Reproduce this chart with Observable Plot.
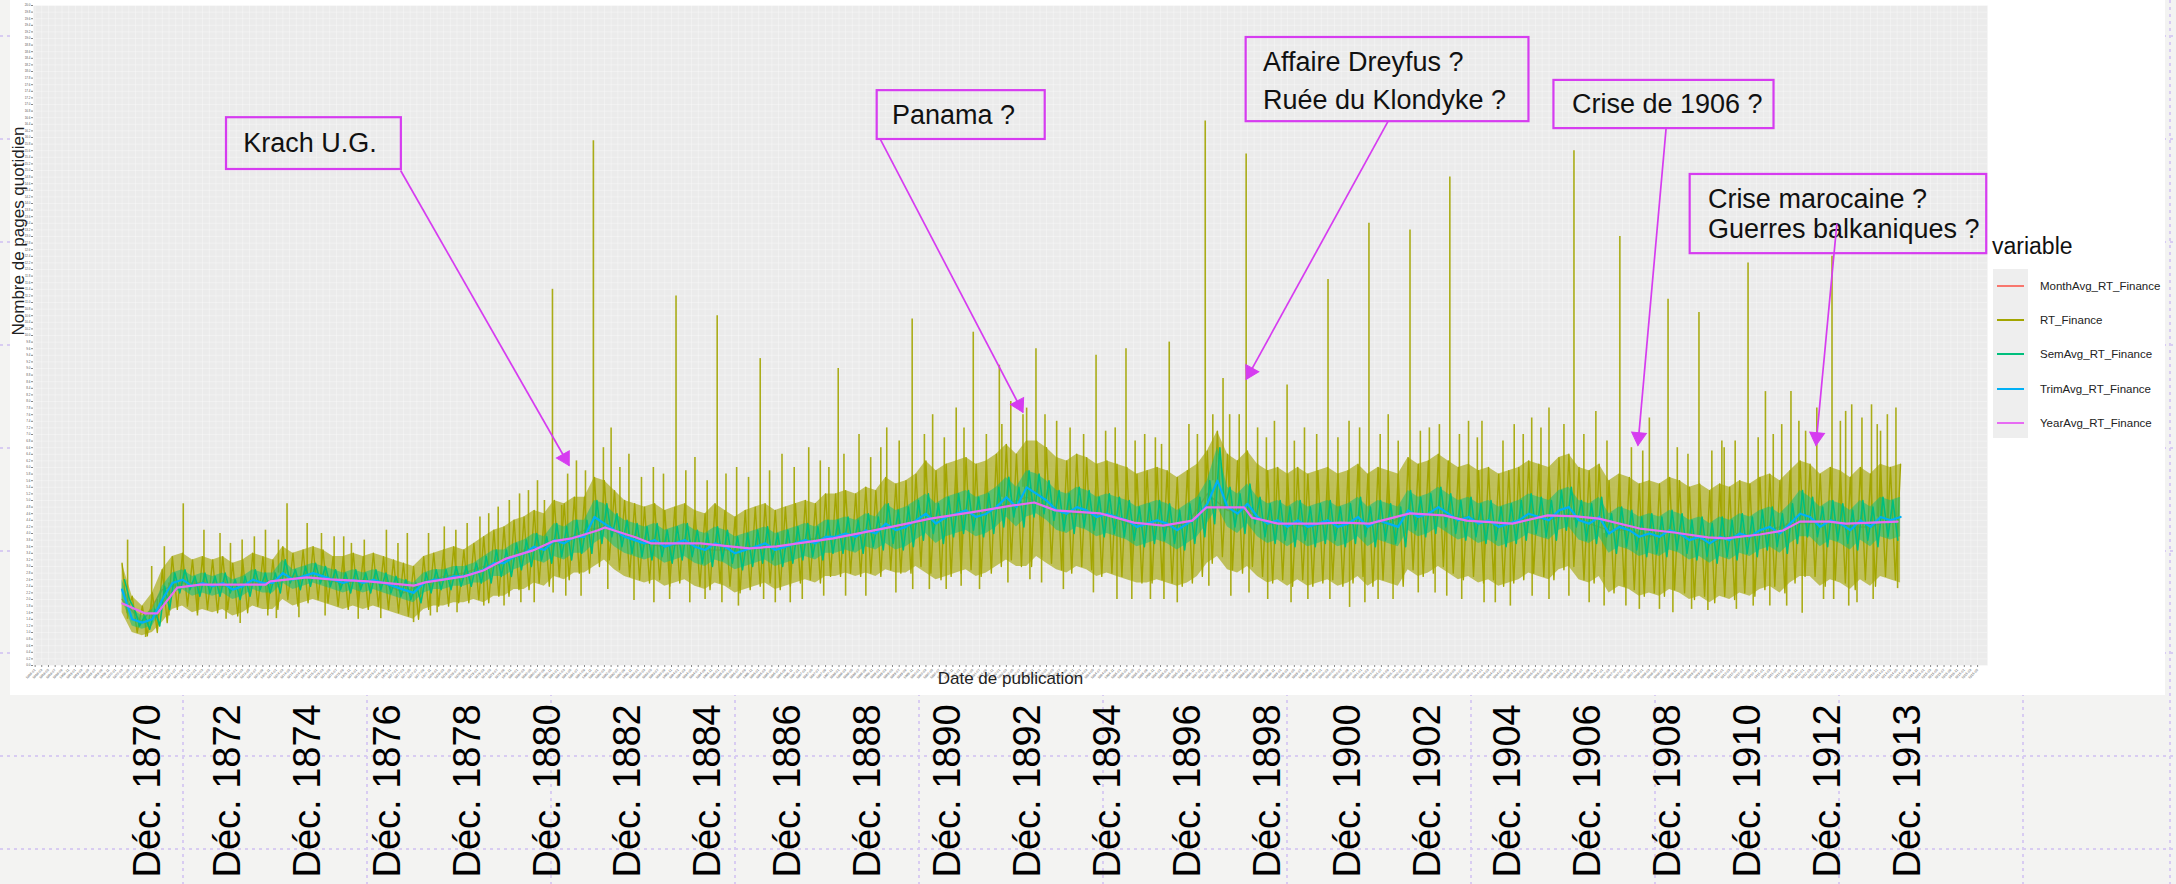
<!DOCTYPE html>
<html>
<head>
<meta charset="utf-8">
<script src="https://cdn.jsdelivr.net/npm/d3@7"></script>
<script src="https://cdn.jsdelivr.net/npm/@observablehq/plot@0.6"></script>
<style>
html, body { margin:0; padding:0; width:2176px; height:884px; overflow:hidden; background:#f3f3f2; font-family:"Liberation Sans", Arial, sans-serif; }
#bg { position:absolute; left:0; top:0; }
#sheet { position:absolute; left:10px; top:0; width:2155px; height:695px; background:#fff; }
#chart { position:absolute; left:10px; top:0; }
#bottom { position:absolute; left:0; top:695px; }
#legend { position:absolute; left:0; top:0; }
.lg-title { position:absolute; left:1992px; top:233px; font-size:23px; color:#111; }
.lg-keys { position:absolute; left:1993px; top:269px; width:35px; height:169px; background:#eeeeee; }
.lg-line { position:absolute; left:1997px; width:27px; height:2px; }
.lg-text { position:absolute; left:2040px; font-size:11.5px; color:#222; line-height:14px; }
</style>
</head>
<body>
<div id="bg"></div>
<div id="sheet"></div>
<div id="chart"></div>
<div id="legend"></div>
<div id="bottom"></div>
<script>
// ---------------- DATA ----------------
const seriesNames = ["MonthAvg_RT_Finance", "RT_Finance", "SemAvg_RT_Finance", "TrimAvg_RT_Finance", "YearAvg_RT_Finance"];

// Quarterly readings, one per quarter starting March 1870 (Mar, Jun, Sep, Dec each year)
const trimAvg = [
 2.3,1.4,1.3,1.4, 2.0,2.5,2.6,2.4, 2.5,2.4,2.5,2.3, 2.4,2.6,2.5,2.5, 2.8,2.6,2.7,2.8,
 2.7,2.6,2.5,2.6, 2.5,2.6,2.5,2.4, 2.3,2.2,2.5,2.6, 2.6,2.7,2.7,2.8, 2.9,3.1,3.1,3.3,
 3.4,3.6,3.5,3.8, 3.7,3.9,3.9,4.5, 4.3,4.1,3.9,3.8, 3.7,3.8,3.6,3.7, 3.8,3.6,3.5,3.7,
 3.6,3.4,3.5,3.6, 3.7,3.5,3.6,3.7, 3.8,3.7,3.9,3.9, 4.0,3.9,4.1,4.0, 4.3,4.1,4.2,4.4,
 4.6,4.3,4.5,4.6, 4.7,4.5,4.6,4.8, 5.1,4.8,5.4,5.2, 5.0,4.7,4.6,4.8, 4.7,4.5,4.6,4.5,
 4.4,4.2,4.3,4.4, 4.3,4.1,4.3,4.5, 4.9,5.6,4.8,4.6, 4.9,4.5,4.3,4.4, 4.2,4.4,4.2,4.3,
 4.4,4.2,4.3,4.5, 4.2,4.4,4.3,4.2, 4.7,4.5,4.6,4.8, 4.6,4.4,4.5,4.3, 4.4,4.2,4.3,4.4,
 4.6,4.5,4.4,4.7, 4.8,4.4,4.3,4.5, 4.0,4.2,4.1,3.9, 4.0,3.9,4.1,4.0, 3.8,3.9,3.7,3.9,
 3.8,4.0,3.9,4.1, 4.2,4.0,4.3,4.6, 4.5,4.2,4.4,4.3, 4.1,4.4,4.2,4.5, 4.4,4.5
];
// Upper / lower edge of the dense daily band (RT_Finance), per quarter
const rtHi = [
 3.1,2.1,1.8,2.2, 2.9,3.3,3.4,3.2, 3.3,3.2,3.3,3.1, 3.2,3.4,3.3,3.2, 3.6,3.4,3.5,3.6,
 3.5,3.3,3.3,3.4, 3.3,3.4,3.3,3.2, 3.1,3.0,3.3,3.4, 3.5,3.6,3.5,3.7, 3.9,4.1,4.2,4.4,
 4.5,4.7,4.6,5.0, 4.9,5.1,5.1,5.7, 5.6,5.3,5.0,4.9, 4.8,4.9,4.7,4.8, 4.9,4.7,4.6,4.9,
 4.7,4.5,4.7,4.8, 4.9,4.7,4.8,4.9, 5.0,4.9,5.2,5.2, 5.3,5.2,5.4,5.3, 5.7,5.5,5.6,5.8,
 6.2,5.9,6.1,6.2, 6.3,6.1,6.2,6.4, 6.7,6.4,6.8,6.8, 6.6,6.3,6.2,6.4, 6.3,6.1,6.2,6.1,
 6.0,5.8,5.9,6.0, 5.9,5.7,5.9,6.1, 6.5,7.1,6.4,6.2, 6.5,6.1,5.9,6.0, 5.8,6.0,5.8,5.9,
 6.0,5.8,5.9,6.1, 5.8,6.0,5.9,5.8, 6.3,6.1,6.2,6.4, 6.2,6.0,6.1,5.9, 6.0,5.8,5.9,6.0,
 6.2,6.1,6.0,6.3, 6.4,6.0,5.9,6.1, 5.6,5.8,5.7,5.5, 5.6,5.5,5.7,5.6, 5.4,5.5,5.3,5.5,
 5.4,5.6,5.5,5.7, 5.8,5.6,5.9,6.2, 6.1,5.8,6.0,5.9, 5.7,6.0,5.8,6.1, 6.0,6.1
];
const rtLo = [
 1.6,1.0,0.9,1.0, 1.3,1.7,1.8,1.6, 1.7,1.6,1.7,1.5, 1.6,1.8,1.7,1.7, 2.0,1.8,1.9,2.0,
 1.9,1.8,1.7,1.8, 1.7,1.8,1.7,1.6, 1.5,1.4,1.7,1.8, 1.8,1.9,1.9,2.0, 1.9,2.1,2.1,2.3,
 2.3,2.5,2.4,2.7, 2.6,2.8,2.8,3.0, 3.2,2.9,2.7,2.6, 2.5,2.6,2.4,2.5, 2.6,2.4,2.3,2.5,
 2.4,2.2,2.3,2.4, 2.5,2.3,2.4,2.5, 2.6,2.5,2.7,2.7, 2.8,2.7,2.8,2.7, 2.9,2.8,2.8,3.0,
 2.8,2.6,2.7,2.8, 2.9,2.7,2.8,3.0, 3.2,3.0,3.0,3.3, 3.1,2.9,2.8,3.0, 2.9,2.7,2.8,2.7,
 2.6,2.5,2.5,2.6, 2.5,2.4,2.5,2.7, 3.1,3.3,2.9,2.8, 3.0,2.7,2.5,2.6, 2.4,2.6,2.4,2.5,
 2.6,2.4,2.5,2.7, 2.4,2.6,2.5,2.4, 2.9,2.7,2.8,3.0, 2.8,2.6,2.7,2.5, 2.6,2.4,2.5,2.6,
 2.8,2.7,2.6,2.9, 3.0,2.6,2.5,2.7, 2.2,2.4,2.3,2.1, 2.2,2.1,2.3,2.2, 2.0,2.1,1.9,2.1,
 2.0,2.2,2.1,2.3, 2.4,2.2,2.5,2.7, 2.7,2.4,2.6,2.5, 2.3,2.6,2.4,2.7, 2.6,2.5
];
// Upper / lower swing of the weekly average (SemAvg), per quarter
const semHi = [
 2.6,1.7,1.5,1.7, 2.4,2.8,2.9,2.7, 2.8,2.7,2.8,2.6, 2.7,2.9,2.8,2.8, 3.2,2.9,3.0,3.1,
 3.0,2.9,2.8,2.9, 2.8,2.9,2.8,2.7, 2.6,2.5,2.8,2.9, 2.9,3.0,3.0,3.1, 3.3,3.5,3.5,3.7,
 3.8,4.0,3.9,4.3, 4.2,4.4,4.4,5.0, 4.9,4.6,4.4,4.3, 4.2,4.3,4.1,4.2, 4.3,4.1,4.0,4.2,
 4.1,3.9,4.0,4.1, 4.2,4.0,4.1,4.2, 4.3,4.2,4.4,4.4, 4.5,4.4,4.6,4.5, 4.9,4.7,4.8,5.0,
 5.2,4.9,5.1,5.2, 5.3,5.1,5.2,5.4, 5.7,5.4,5.9,5.8, 5.6,5.3,5.2,5.4, 5.3,5.1,5.2,5.1,
 5.0,4.8,4.9,5.0, 4.9,4.7,4.9,5.1, 5.6,6.6,5.4,5.2, 5.5,5.1,4.9,5.0, 4.8,5.0,4.8,4.9,
 5.0,4.8,4.9,5.1, 4.8,5.0,4.9,4.8, 5.3,5.1,5.2,5.4, 5.2,5.0,5.1,4.9, 5.0,4.8,4.9,5.0,
 5.2,5.1,5.0,5.3, 5.4,5.0,4.9,5.1, 4.6,4.8,4.7,4.5, 4.6,4.5,4.7,4.6, 4.4,4.5,4.3,4.5,
 4.4,4.6,4.5,4.7, 4.8,4.6,4.9,5.3, 5.1,4.8,5.0,4.9, 4.7,5.0,4.8,5.1, 5.0,5.1
];
const semLo = [
 2.0,1.2,1.1,1.2, 1.7,2.2,2.3,2.1, 2.2,2.1,2.2,2.0, 2.1,2.3,2.2,2.2, 2.5,2.3,2.4,2.5,
 2.4,2.3,2.2,2.3, 2.2,2.3,2.2,2.1, 2.0,1.9,2.2,2.3, 2.3,2.4,2.4,2.5, 2.5,2.7,2.7,2.9,
 3.0,3.2,3.1,3.3, 3.2,3.4,3.4,3.7, 3.9,3.6,3.4,3.3, 3.2,3.3,3.1,3.2, 3.3,3.1,3.0,3.2,
 3.1,2.9,3.0,3.1, 3.2,3.0,3.1,3.2, 3.3,3.2,3.4,3.4, 3.5,3.4,3.6,3.5, 3.7,3.5,3.6,3.8,
 4.0,3.7,3.9,4.0, 4.1,3.9,4.0,4.2, 4.5,4.2,4.5,4.6, 4.4,4.1,4.0,4.2, 4.1,3.9,4.0,3.9,
 3.8,3.6,3.7,3.8, 3.7,3.5,3.7,3.9, 4.3,4.8,4.2,4.0, 4.3,3.9,3.7,3.8, 3.6,3.8,3.6,3.7,
 3.8,3.6,3.7,3.9, 3.6,3.8,3.7,3.6, 4.1,3.9,4.0,4.2, 4.0,3.8,3.9,3.7, 3.8,3.6,3.7,3.8,
 4.0,3.9,3.8,4.1, 4.2,3.8,3.7,3.9, 3.4,3.6,3.5,3.3, 3.4,3.3,3.5,3.4, 3.2,3.3,3.1,3.3,
 3.2,3.4,3.3,3.5, 3.6,3.4,3.7,3.9, 3.9,3.6,3.8,3.7, 3.5,3.8,3.6,3.9, 3.8,3.9
];
// Monthly average, read every half year from March 1870
const monthAvg = [
 2.0,1.3, 2.3,2.5, 2.5,2.4, 2.5,2.5, 2.7,2.7, 2.6,2.5, 2.6,2.5, 2.2,2.5, 2.7,2.8, 3.0,3.1,
 3.5,3.6, 3.8,4.1, 4.2,3.9, 3.7,3.6, 3.7,3.5, 3.5,3.5, 3.6,3.6, 3.8,3.9, 3.9,4.1, 4.2,4.2,
 4.4,4.5, 4.6,4.6, 4.9,5.1, 4.8,4.6, 4.6,4.6, 4.3,4.3, 4.2,4.3, 5.2,4.7, 4.7,4.3, 4.3,4.2,
 4.3,4.3, 4.3,4.3, 4.6,4.6, 4.5,4.5, 4.3,4.3, 4.5,4.4, 4.6,4.3, 4.1,4.1, 3.9,4.1, 3.9,3.7,
 3.9,3.9, 4.1,4.3, 4.3,4.4, 4.2,4.2, 4.4
];
// Yearly average, breakpoints of the smooth curve
const yearDates = [
 "1870-03-03","1870-09-25","1871-01-15","1871-07-15","1872-02-10","1873-09-25","1873-11-05","1874-10-08",
 "1875-05-05","1876-04-15","1877-06-05","1877-09-15","1878-09-05","1879-02-25","1879-09-20","1880-05-15",
 "1880-11-15","1881-05-05","1881-12-28","1882-03-05","1882-12-15","1883-05-01","1884-07-20","1885-10-10",
 "1886-06-15","1887-11-10","1889-03-20","1890-04-10","1891-04-15","1892-05-01","1892-11-10","1893-05-20",
 "1894-07-01","1895-05-05","1896-01-25","1896-10-15","1897-02-20","1898-01-30","1898-04-10","1898-12-05",
 "1899-12-01","1900-06-25","1901-03-15","1902-03-18","1903-01-20","1903-08-15","1904-10-05","1905-08-20",
 "1906-05-05","1906-11-28","1907-12-05","1908-10-10","1909-08-15","1910-01-25","1910-12-01","1911-06-28",
 "1911-11-28","1912-08-20","1913-01-20","1914-05-05"
];
const yearVals = [
 1.88,1.58,1.58,2.36,2.45,2.45,2.55,2.67,
 2.61,2.55,2.42,2.52,2.70,2.88,3.24,3.48,
 3.76,3.85,4.09,4.18,3.88,3.70,3.70,3.55,
 3.61,3.85,4.18,4.45,4.64,4.85,4.94,4.70,
 4.61,4.33,4.24,4.39,4.79,4.79,4.48,4.30,
 4.30,4.33,4.30,4.61,4.55,4.39,4.30,4.55,
 4.52,4.45,4.15,4.03,3.88,3.85,3.97,4.09,
 4.36,4.36,4.30,4.36
];
// Daily peaks of RT_Finance
const spikeDates = [
 "1870-04-20","1870-11-25","1871-09-08","1872-03-14","1872-08-07","1873-02-24","1873-09-24","1874-04-08",
 "1874-10-08","1875-06-10","1875-11-14","1876-09-27","1877-04-05","1878-03-07","1878-10-01","1879-04-15",
 "1879-10-19","1880-04-10","1880-09-02","1880-11-14","1881-02-06","1881-06-20","1881-11-21","1882-05-01",
 "1882-10-10","1883-05-20","1883-12-12","1884-06-01","1884-12-20","1885-06-15","1886-01-15","1886-08-01",
 "1887-04-01","1887-12-25","1888-07-01","1889-03-10","1889-10-27","1890-05-01","1890-12-01","1891-05-05",
 "1891-12-28","1892-04-10","1892-07-30","1892-11-25","1893-06-01","1894-05-25","1894-11-15","1895-02-21",
 "1895-08-10","1896-03-20","1896-09-15","1897-02-10","1897-07-22","1897-09-20","1897-12-16","1898-02-17",
 "1898-11-01","1899-02-24","1899-08-01","1900-03-03","1900-09-10","1901-03-10","1901-09-01","1902-03-18",
 "1902-09-10","1903-03-15","1903-09-01","1904-01-01","1904-10-20","1905-03-28","1905-09-01","1906-04-16",
 "1906-11-01","1907-06-07","1908-03-01","1908-08-18","1909-05-26","1909-12-20","1910-04-20","1910-08-15",
 "1911-01-20","1911-06-17","1911-09-09","1912-05-01","1912-09-16","1913-01-18","1913-03-14","1913-09-10",
 "1913-12-01","1914-04-20",
 "1871-03-20","1872-11-10","1873-06-15","1874-01-20","1875-02-15","1875-09-05","1876-03-10","1877-01-10",
 "1877-10-15","1878-06-20","1879-01-25","1879-07-10","1880-01-20","1880-07-01","1881-04-01","1881-09-10",
 "1882-02-20","1882-07-20","1883-02-01","1883-08-20","1884-03-10","1884-09-20","1885-03-10","1885-10-01",
 "1886-04-10","1886-11-20","1887-07-15","1887-10-01","1888-02-15","1888-10-15","1889-01-15","1889-07-01",
 "1890-02-15","1890-08-15","1891-02-10","1891-09-01","1892-01-20","1892-09-01","1893-02-15","1893-10-01",
 "1894-02-01","1894-08-20","1895-05-15","1895-11-15","1896-01-10","1896-12-01","1897-04-20","1898-06-01",
 "1898-08-20","1899-05-01","1899-11-20","1900-06-01","1900-12-15","1901-06-20","1901-12-01","1902-06-20",
 "1902-12-10","1903-06-10","1903-11-20","1904-07-10","1905-01-10","1905-06-20","1906-01-15","1906-07-15",
 "1907-02-10","1907-09-20","1908-01-01","1908-11-10","1909-02-15","1909-09-20","1910-01-10","1910-11-15",
 "1911-04-01","1911-11-20","1912-01-20","1912-12-01","1913-06-15","1913-11-01","1914-02-01"
];
const spikeVals = [
 3.8,3.0,4.9,4.1,4.0,3.8,4.1,4.9,
 4.3,3.9,3.7,4.1,4.0,4.2,4.3,4.6,
 5.0,5.3,5.0,11.4,4.85,6.2,15.9,7.2,
 6.4,6.0,11.2,6.3,10.6,6.0,9.3,6.4,
 6.6,9.0,7.0,7.2,10.5,7.6,7.8,10.1,
 9.1,8.0,7.6,9.6,7.4,9.4,7.2,9.6,
 7.0,9.8,7.3,16.5,8.7,7.6,7.6,15.5,
 7.4,8.5,7.2,11.7,7.4,13.4,7.6,13.2,
 7.2,14.8,7.4,7.4,7.3,7.5,7.8,15.6,
 7.7,13.0,7.5,11.1,10.7,6.8,6.8,12.2,
 8.3,7.3,8.3,7.8,12.4,7.7,7.9,7.9,
 7.1,7.8,
 3.6,3.7,3.9,3.8,4.0,3.9,3.8,3.7,
 4.0,4.1,4.5,4.8,5.2,5.6,5.8,5.9,
 6.6,6.0,5.7,5.8,5.9,5.6,5.8,5.7,
 5.9,6.0,6.2,6.0,6.4,6.3,6.6,6.8,
 7.0,6.9,7.2,7.0,7.3,7.8,7.6,7.2,
 7.0,7.1,6.8,6.9,6.7,7.0,7.6,7.2,
 6.9,6.8,7.0,6.9,7.2,7.0,6.8,7.1,
 7.3,7.0,6.9,6.8,7.0,7.2,7.3,7.0,
 6.8,6.6,6.5,6.6,6.4,6.5,6.6,6.9,
 7.0,7.4,7.1,7.4,7.5,7.3,7.6
];
// Daily troughs of RT_Finance
const dipDates = [
 "1870-10-01","1871-01-15","1871-05-01","1873-02-06","1874-01-01","1874-07-25","1876-08-07","1877-06-01",
 "1878-01-01","1879-03-01","1880-06-01","1880-11-20","1881-08-01","1882-11-25","1883-05-25","1884-09-01",
 "1885-07-01","1886-06-01","1887-02-01","1888-03-01","1889-06-01","1890-09-01","1891-07-01","1892-10-01",
 "1893-08-01","1894-12-01","1895-10-01","1896-06-01","1897-10-01","1898-09-01","1899-04-01","1900-09-15",
 "1901-06-01","1902-06-01","1903-07-01","1904-05-01","1905-09-01","1906-09-01","1907-08-01","1908-06-01",
 "1909-08-15","1910-10-01","1911-12-20","1912-07-01","1913-05-01","1914-05-05",
 "1872-01-15","1872-10-01","1873-10-15","1875-03-20","1876-01-15","1877-11-01","1878-07-01","1879-09-01",
 "1880-02-01","1881-03-15","1882-04-01","1883-10-15","1884-04-15","1885-02-01","1886-02-15","1886-10-15",
 "1887-08-15","1888-09-01","1889-11-01","1890-04-01","1891-01-15","1892-03-15","1893-01-15","1894-05-01",
 "1895-04-15","1896-02-01","1897-03-15","1898-03-15","1899-09-01","1900-03-20","1901-02-01","1901-10-15",
 "1902-11-01","1903-02-15","1904-01-20","1904-09-15","1905-04-01","1906-03-01","1907-01-15","1907-12-01",
 "1908-10-01","1909-03-20","1910-05-01","1911-03-01","1911-08-01","1912-10-01","1913-02-15","1913-09-25"
];
const dipVals = [
 0.85,1.1,1.5,1.27,1.42,1.45,1.42,1.3,
 1.6,1.8,1.9,2.2,2.1,1.97,1.9,2.0,
 1.8,1.9,2.0,2.1,2.2,2.3,2.3,2.6,
 2.3,2.0,2.0,1.9,2.1,2.0,1.9,1.76,
 2.0,2.2,2.0,1.9,2.0,1.9,1.8,1.7,
 1.67,1.8,1.58,2.0,1.9,2.33,
 1.5,1.4,1.5,1.5,1.4,1.5,1.6,1.8,
 1.9,2.1,2.3,2.0,1.9,1.9,2.0,1.9,
 2.1,2.1,2.3,2.3,2.4,2.5,2.5,2.2,
 2.0,2.0,2.4,2.2,2.0,2.0,1.9,2.0,
 2.2,2.1,1.9,1.8,2.1,2.1,1.8,1.7,
 1.6,1.7,1.7,1.8,1.8,2.0,1.8,2.0
];

// Annotations
const noteLines  = ["Krach U.G.", "Panama ?", "Affaire Dreyfus ?", "Ruée du Klondyke ?", "Crise de 1906 ?", "Crise marocaine ?", "Guerres balkaniques ?"];
const noteDates  = ["1873-03-06", "1889-04-27", "1898-07-19", "1898-07-19", "1906-03-29", "1909-08-15", "1909-08-15"];
const noteVals   = [15.82, 16.68, 18.27, 17.12, 17.0, 14.12, 13.21];
const boxX1 = ["1872-10-05", "1888-12-13", "1898-02-17", "1905-10-16", "1909-03-07"];
const boxX2 = ["1877-02-10", "1893-02-17", "1905-03-03", "1911-04-08", "1916-07-23"];
const boxY1 = [15.03, 15.94, 16.48, 16.27, 12.48];
const boxY2 = [16.60, 17.42, 19.03, 17.73, 14.88];
const arrowFromDate = ["1877-02-03", "1889-01-11", "1901-08-29", "1908-07-31", "1912-10-30"];
const arrowFromVal  = [15.0, 15.94, 16.48, 16.27, 13.39];
const arrowToDate   = ["1881-04-15", "1892-07-30", "1898-02-17", "1907-11-18", "1912-04-23"];
const arrowToVal    = [6.06, 7.67, 8.67, 6.67, 6.67];

// Big tick labels under the figure
const bigLabels = ["Déc. 1870","Déc. 1872","Déc. 1874","Déc. 1876","Déc. 1878","Déc. 1880","Déc. 1882","Déc. 1884",
 "Déc. 1886","Déc. 1888","Déc. 1890","Déc. 1892","Déc. 1894","Déc. 1896","Déc. 1898","Déc. 1900","Déc. 1902",
 "Déc. 1904","Déc. 1906","Déc. 1908","Déc. 1910","Déc. 1912","Déc. 1913"];

// ---------------- BUILD ----------------
const colors = ["#F8766D", "#A3A500", "#00BF7D", "#00B0F6", "#E76BF3"];
const noteColor = "#d63cf0";
const FONT = '"Liberation Sans", Arial, sans-serif';

const q0 = new Date(Date.UTC(1870, 2, 1));
const qDate = i => d3.utcMonth.offset(q0, 3 * i);

const band = trimAvg.map((t, i) => ({date: qDate(i), t, rtHi: rtHi[i], rtLo: rtLo[i], semHi: semHi[i], semLo: semLo[i]}));
// daily swings: high at the start of each quarter, low in its middle
const lastDate = band[band.length - 1].date;
const rtSwing = band.flatMap(b => [{date: b.date, v: b.rtHi}, {date: d3.utcDay.offset(b.date, 45), v: b.rtLo}]).filter(d => d.date <= lastDate);
const semSwing = band.flatMap(b => [{date: d3.utcDay.offset(b.date, 22), v: b.semHi}, {date: d3.utcDay.offset(b.date, 67), v: b.semLo}]).filter(d => d.date <= lastDate);
const bis = d3.bisector(d => d.date).center;
const baseAt = d => band[bis(band, d)].t;
const spikes = spikeDates.map((d, i) => { const date = new Date(d); return {date, v: spikeVals[i], base: baseAt(date)}; });
const dips = dipDates.map((d, i) => { const date = new Date(d); return {date, v: dipVals[i], base: baseAt(date)}; });
const monthPoints = monthAvg.map((v, i) => ({date: d3.utcMonth.offset(q0, 6 * i), v}));
const yearPoints = yearDates.map((d, i) => ({date: new Date(d), v: yearVals[i]}));

const notes = noteLines.map((t, i) => ({t, date: new Date(noteDates[i]), v: noteVals[i]}));
const boxes = boxX1.map((d, i) => ({x1: new Date(d), x2: new Date(boxX2[i]), y1: boxY1[i], y2: boxY2[i]}));
const arrows = arrowFromDate.map((d, i) => ({x1: new Date(d), y1: arrowFromVal[i], x2: new Date(arrowToDate[i]), y2: arrowToVal[i]}));

// geometry of the main plot
const W = 2155, H = 695, ML = 23, MR = 178, MT = 5, MB = 30;
const xDomain = [new Date("1867-12-17"), new Date("1916-07-30")];
const yDomain = [0, 20];
const xs = d3.scaleUtc(xDomain, [ML, W - MR]);
const ys = d3.scaleLinear(yDomain, [H - MB, MT]);

// arrow heads: rotate a triangle along each arrow in screen space
const heads = arrows.map(a => {
  const px1 = xs(a.x1), py1 = ys(a.y1), px2 = xs(a.x2), py2 = ys(a.y2);
  const dx = px2 - px1, dy = py2 - py1, len = Math.hypot(dx, dy);
  const back = 8.5;
  return {date: xs.invert(px2 - dx / len * back), v: ys.invert(py2 - dy / len * back), angle: Math.atan2(dx, -dy) * 180 / Math.PI};
});

const xTicks = d3.utcMonth.every(2).range(new Date("1868-01-01"), new Date("1916-07-01"));
const yTicks = d3.range(0, 20.001, 0.2);

const chart = Plot.plot({
  width: W, height: H,
  marginLeft: ML, marginRight: MR, marginTop: MT, marginBottom: MB,
  x: {type: "utc", domain: xDomain},
  y: {domain: yDomain},
  style: {background: "transparent", fontFamily: FONT},
  marks: [
    Plot.frame({fill: "#ebebeb", stroke: null}),
    Plot.gridX(xTicks, {stroke: "#ffffff", strokeOpacity: 0.55, strokeWidth: 0.6}),
    Plot.gridY(yTicks, {stroke: "#ffffff", strokeOpacity: 0.55, strokeWidth: 0.6}),
    Plot.axisX({ticks: xTicks, tickFormat: d3.utcFormat("%Y-%m"), fontSize: 3.4, tickRotate: -45, tickSize: 2, tickPadding: 2, stroke: "#888", fill: "#555", label: null}),
    Plot.axisY({ticks: yTicks, tickFormat: ".1f", fontSize: 3, tickSize: 2, tickPadding: 1, stroke: "#888", fill: "#555", label: null}),
    // MonthAvg (drawn first, mostly hidden as in the original)
    Plot.line(monthPoints, {x: "date", y: "v", stroke: colors[0], strokeWidth: 1.5}),
    // RT_Finance : daily band, swings, peaks and troughs
    Plot.areaY(band, {x: "date", y1: "rtLo", y2: "rtHi", fill: colors[1], fillOpacity: 0.62}),
    Plot.line(rtSwing, {x: "date", y: "v", stroke: colors[1], strokeWidth: 1.4}),
    Plot.ruleX(spikes, {x: "date", y1: "base", y2: "v", stroke: colors[1], strokeWidth: 1.6, strokeOpacity: 0.9}),
    Plot.ruleX(dips, {x: "date", y1: "base", y2: "v", stroke: colors[1], strokeWidth: 1.6, strokeOpacity: 0.9}),
    // SemAvg : weekly swings
    Plot.areaY(band, {x: "date", y1: "semLo", y2: "semHi", fill: colors[2], fillOpacity: 0.5}),
    Plot.line(semSwing, {x: "date", y: "v", stroke: colors[2], strokeWidth: 1.6}),
    // TrimAvg
    Plot.line(band, {x: "date", y: "t", stroke: colors[3], strokeWidth: 2.2}),
    // YearAvg
    Plot.line(yearPoints, {x: "date", y: "v", stroke: colors[4], strokeWidth: 2.2}),
    // annotations
    Plot.rect(boxes, {x1: "x1", x2: "x2", y1: "y1", y2: "y2", fill: "none", stroke: noteColor, strokeWidth: 2.2}),
    Plot.text(notes, {x: "date", y: "v", text: "t", textAnchor: "start", fontSize: 27, fill: "#111"}),
    Plot.link(arrows, {x1: "x1", y1: "y1", x2: "x2", y2: "y2", stroke: noteColor, strokeWidth: 1.7}),
    Plot.dot(heads, {x: "date", y: "v", symbol: "triangle", r: 5.5, rotate: "angle", fill: noteColor, stroke: noteColor, strokeWidth: 1}),
    Plot.text(["Nombre de pages quotidien"], {frameAnchor: "left", dx: -15, rotate: -90, fontSize: 17, fill: "#222"}),
    Plot.text(["Date de publication"], {frameAnchor: "bottom", dy: 18, fontSize: 17, fill: "#222"})
  ]
});
document.getElementById("chart").appendChild(chart);

// legend (ggplot style)
const lg = document.getElementById("legend");
lg.innerHTML = '<div class="lg-title">variable</div><div class="lg-keys"></div>';
seriesNames.forEach((name, i) => {
  const cy = 286 + i * 34.2;
  const line = document.createElement("div");
  line.className = "lg-line";
  line.style.top = (cy - 1) + "px";
  line.style.background = colors[i];
  lg.appendChild(line);
  const t = document.createElement("div");
  t.className = "lg-text";
  t.style.top = (cy - 7) + "px";
  t.textContent = name;
  lg.appendChild(t);
});

// big labels under the figure
const bottom = Plot.plot({
  width: 2176, height: 189, margin: 0,
  x: {type: "point", domain: bigLabels, range: [153, 1924], padding: 0, axis: null},
  style: {background: "transparent", fontFamily: FONT},
  marks: [
    Plot.text(bigLabels, {x: d => d, frameAnchor: "bottom", dy: -7, rotate: -90, textAnchor: "start", fontSize: 38, fill: "#000"})
  ]
});
document.getElementById("bottom").appendChild(bottom);

// dotted slide grid behind everything
const gx = d3.range(0, 12).map(k => -1 + 184 * k).concat([2170]);
const gy = [36, 139, 242, 345, 448, 551, 653, 756, 849];
const bg = d3.select("#bg").append("svg").attr("width", 2176).attr("height", 884);
bg.selectAll("line.v").data(gx).join("line").attr("x1", d => d).attr("x2", d => d).attr("y1", 0).attr("y2", 884)
  .attr("stroke", "#d8ccf2").attr("stroke-width", 2).attr("stroke-dasharray", "3,4");
bg.selectAll("line.h").data(gy).join("line").attr("y1", d => d).attr("y2", d => d).attr("x1", 0).attr("x2", 2176)
  .attr("stroke", "#d8ccf2").attr("stroke-width", 2).attr("stroke-dasharray", "3,4");
</script>
</body>
</html>
